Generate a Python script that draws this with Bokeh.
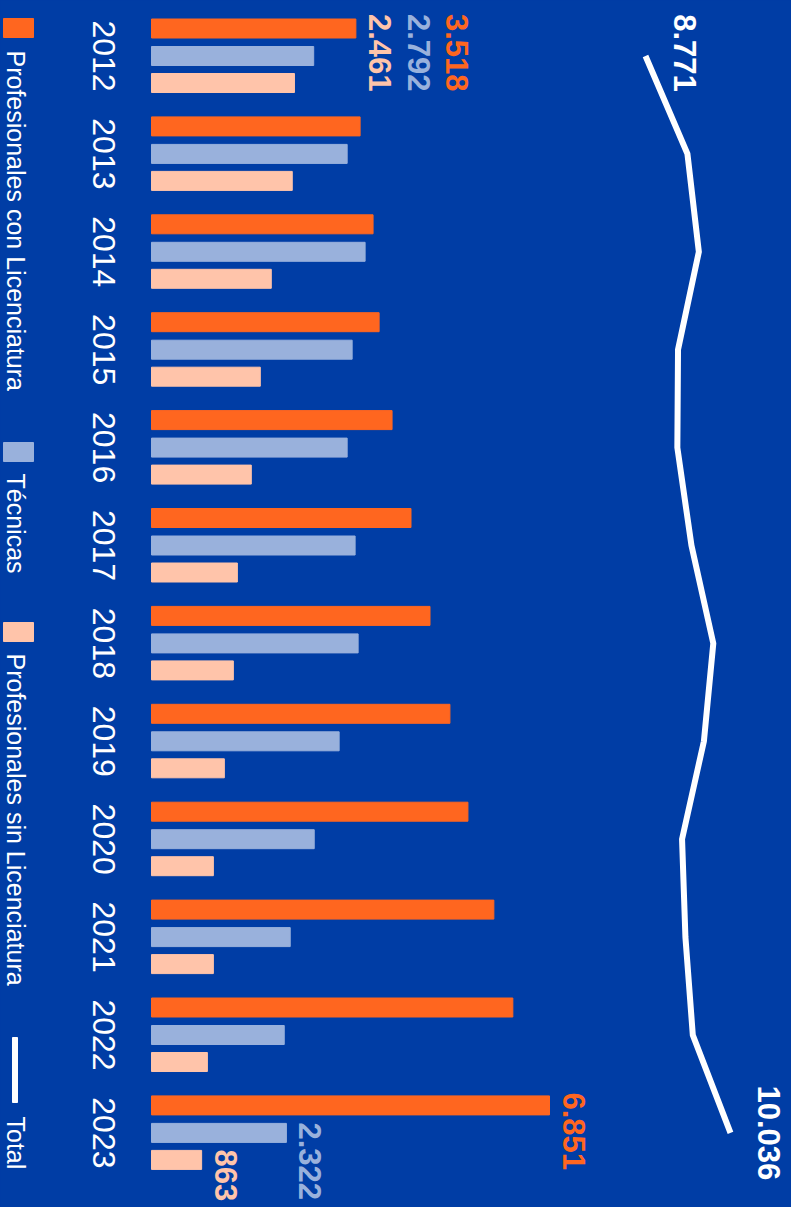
import math
from bokeh.plotting import figure
from bokeh.models import Range1d, ColumnDataSource
from bokeh.transform import dodge
from bokeh.core.properties import value
from bokeh.embed import file_html
from bokeh.resources import INLINE

# ---------------- data ----------------
years = [2012, 2013, 2014, 2015, 2016, 2017, 2018, 2019, 2020, 2021, 2022, 2023]
licenciatura = [3518, 3591, 3814, 3918, 4141, 4467, 4794, 5137, 5447, 5893, 6220, 6851]
tecnicas = [2792, 3368, 3677, 3454, 3368, 3505, 3557, 3230, 2801, 2388, 2285, 2322]
sin_licenciatura = [2461, 2423, 2062, 1873, 1718, 1478, 1409, 1254, 1065, 1065, 962, 863]
totals = [8771, 9395, 9565, 9255, 9245, 9455, 9780, 9640, 9315, 9365, 9475, 10036]
series_names = ["Profesionales con Licenciatura", "Técnicas", "Profesionales sin Licenciatura", "Total"]

# ---------------- style ----------------
BG = "#003DA5"
ORANGE = "#FF661F"
BLUE = "#99B1DC"
PEACH = "#FFC4AA"
WHITE = "#FFFFFF"
FONT = value("Liberation Sans")
ROT = -math.pi / 2

W, H = 791, 1207
K = 398.0 / 6851.0          # px per unit (bars)
K2 = 85.0 / 1265.0          # px per unit (total line)
GAP = 97.9                  # px per year
X0 = 151.0                  # bar baseline (px)
YC = 55.5                   # first group centre (px)
XT = 645.0                  # first total point (px)

p = figure(width=W, height=H, output_backend="svg", toolbar_location=None,
           x_range=Range1d(-X0 / K, (W - X0) / K),
           y_range=Range1d(2012 + (H - YC) / GAP, 2012 - YC / GAP),
           x_axis_location=None, y_axis_location=None,
           min_border=0, min_border_left=0, min_border_right=0,
           min_border_top=0, min_border_bottom=0,
           background_fill_color=BG, border_fill_color=BG,
           outline_line_color=None)
p.grid.visible = False
p.extra_x_ranges = {"total": Range1d(8771 - XT / K2, 8771 + (W - XT) / K2)}


def fx(px):
    return (px - X0) / K


def fy(py):
    return 2012 + (py - YC) / GAP


src = ColumnDataSource(dict(year=years, lic=licenciatura, tec=tecnicas, sin=sin_licenciatura,
                            tot=totals, ylab=[str(y) for y in years]))

bh = 19.0 / GAP
p.hbar(y=dodge("year", -27.5 / GAP), right="lic", left=0, height=bh, color=ORANGE, source=src)
p.hbar(y=dodge("year", 0), right="tec", left=0, height=bh, color=BLUE, source=src)
p.hbar(y=dodge("year", 27.0 / GAP), right="sin", left=0, height=bh, color=PEACH, source=src)

p.line(x="tot", y="year", source=src, x_range_name="total", line_color=WHITE,
       line_width=6, line_join="miter")

# year labels
p.text(x=0, y="year", text="ylab", source=src, angle=ROT, x_offset=-47.5,
       text_align="center", text_baseline="middle", text_color=WHITE,
       text_font=FONT, text_font_size="32px")


def fmt(v):
    return f"{v:,}".replace(",", ".")


def vlabel(xv, yv, txt, color, xo, yo, rng="default"):
    p.text(x=[xv], y=[yv], text=[txt], angle=ROT, x_offset=xo, y_offset=yo,
           text_align="left", text_baseline="middle", text_color=color,
           text_font=FONT, text_font_size="31px", text_font_style="bold",
           x_range_name=rng)


# first year labels (stacked beside the longest bar)
vlabel(licenciatura[0], years[0], fmt(sin_licenciatura[0]), PEACH, 24.5, -42)
vlabel(licenciatura[0], years[0], fmt(tecnicas[0]), BLUE, 63, -42)
vlabel(licenciatura[0], years[0], fmt(licenciatura[0]), ORANGE, 101, -42)
# last year labels
vlabel(licenciatura[-1], years[-1], fmt(licenciatura[-1]), ORANGE, 24, -40.5)
vlabel(tecnicas[-1], years[-1], fmt(tecnicas[-1]), BLUE, 24, -10.5)
vlabel(sin_licenciatura[-1], years[-1], fmt(sin_licenciatura[-1]), PEACH, 24, 16.5)
# total labels
p.text(x=[totals[0]], y=[years[0]], text=[fmt(totals[0])], angle=ROT, x_offset=39.5, y_offset=-3,
       text_align="center", text_baseline="middle", text_color=WHITE, text_font=FONT,
       text_font_size="31px", text_font_style="bold", x_range_name="total")
p.text(x=[totals[-1]], y=[years[-1]], text=[fmt(totals[-1])], angle=ROT, x_offset=38, y_offset=0,
       text_align="center", text_baseline="middle", text_color=WHITE, text_font=FONT,
       text_font_size="31px", text_font_style="bold", x_range_name="total")

# legend (rotated)
sw = [(18, 37, ORANGE), (442, 461, BLUE), (622, 641, PEACH)]
for top, bot, col in sw:
    p.quad(left=[fx(3)], right=[fx(33)], top=[fy(top)], bottom=[fy(bot)], color=col)
p.quad(left=[fx(12)], right=[fx(17)], top=[fy(1037)], bottom=[fy(1102)], color=WHITE)
leg_starts = [50, 473, 653, 1116]
for name, st in zip(series_names, leg_starts):
    p.text(x=[fx(15.5)], y=[fy(st)], text=[name], angle=ROT, text_align="left",
           text_baseline="middle", text_color=WHITE, text_font=FONT,
           text_font_size="25px")

html = file_html(p, INLINE)
html = html.replace("</head>", "<style>html,body{background:#003DA5;}</style></head>", 1)
open("out.html", "w").write(html)
